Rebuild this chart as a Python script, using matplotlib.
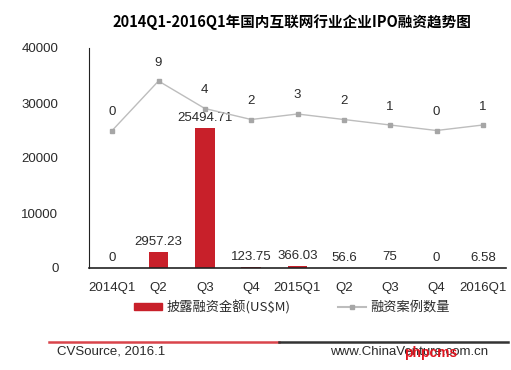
import numpy as np
import matplotlib.pyplot as plt
from matplotlib.lines import Line2D

plt.rcParams['font.family'] = ['Liberation Sans', 'Noto Sans CJK SC', 'DejaVu Sans']

# ----------------------------
# Data
# ----------------------------
quarters = ["2014Q1", "Q2", "Q3", "Q4", "2015Q1", "Q2", "Q3", "Q4", "2016Q1"]
amount = [0, 2957.23, 25494.71, 123.75, 366.03, 56.6, 75, 0, 6.58]
amount_labels = ["0", "2957.23", "25494.71", "123.75", "366.03", "56.6", "75", "0", "6.58"]
cases = [0, 9, 4, 2, 3, 2, 1, 0, 1]
yticks = [0, 10000, 20000, 30000, 40000]

bar_color = "#C8202A"
line_color = "#BDBDBD"
marker_color = "#A6A6A6"
text_color = "#2a2a2a"

# ----------------------------
# Figure
# ----------------------------
fig = plt.figure(figsize=(5.11, 3.70), dpi=100)
ax = fig.add_axes([89 / 511, 1 - 268 / 370, 417 / 511, 220 / 370])
x = np.arange(len(quarters))

ax.bar(x, amount, width=0.43, color=bar_color, zorder=2)
for xi, v, lab in zip(x, amount, amount_labels):
    ax.annotate(lab, (xi, v), xytext=(0, 3), textcoords="offset points",
                ha="center", va="bottom", fontsize=9.5, color=text_color)

ax.set_xlim(-0.5, len(quarters) - 0.5)
ax.set_ylim(0, 40000)
ax.set_yticks(yticks)
ax.set_yticklabels([str(t) for t in yticks], fontsize=9.5, color=text_color)
ax.set_xticks(x)
ax.set_xticklabels(quarters, fontsize=9.5, color=text_color)
ax.tick_params(length=0)
ax.tick_params(axis="x", pad=10)
ax.tick_params(axis="y", pad=22)
for s in ["top", "right"]:
    ax.spines[s].set_visible(False)
ax.spines["left"].set_color("#222222")
ax.spines["bottom"].set_color("#222222")
ax.spines["left"].set_linewidth(0.8)
ax.spines["bottom"].set_linewidth(1.2)
ax.patch.set_visible(False)

# secondary scale for case counts (hidden)
ax2 = ax.twinx()
ax2.set_ylim(-25, 15)
ax2.plot(x, cases, color=line_color, lw=1.0, marker="s", ms=3.5,
         mfc=marker_color, mec=marker_color, zorder=3)
for xi, c in zip(x, cases):
    ax2.annotate(str(c), (xi, c), xytext=(0, 9), textcoords="offset points",
                 ha="center", va="bottom", fontsize=9.5, color=text_color)
ax2.set_yticks([])
for s in ax2.spines.values():
    s.set_visible(False)

fig.text(292 / 511, 0.94, "2014Q1-2016Q1年国内互联网行业企业IPO融资趋势图",
         ha="center", va="center", fontsize=10.5, fontweight="bold",
         family=["Noto Sans CJK SC", "DejaVu Sans"])

# legend
handles = [plt.Rectangle((0, 0), 1, 1, color=bar_color),
           Line2D([0], [0], color=line_color, marker="s", ms=3,
                  mfc=marker_color, mec=marker_color)]
leg = fig.legend(handles, ["披露融资金额(US$M)", "融资案例数量"],
                 loc="center", bbox_to_anchor=(292 / 511, 1 - 307 / 370), ncol=2,
                 frameon=False, handlelength=2.1, handleheight=0.5,
                 columnspacing=3.6, handletextpad=0.35,
                 prop={"family": ["Noto Sans CJK SC", "DejaVu Sans"], "size": 9.5})
for t in leg.get_texts():
    t.set_color(text_color)

# footer
fig.add_artist(Line2D([49 / 511, 279 / 511], [1 - 342 / 370] * 2,
                      color="#D9444B", lw=1.8, transform=fig.transFigure))
fig.add_artist(Line2D([279 / 511, 508 / 511], [1 - 342 / 370] * 2,
                      color="#333333", lw=1.8, transform=fig.transFigure))
fig.text(57 / 511, 1 - 352 / 370, "CVSource, 2016.1", ha="left", va="center",
         fontsize=9.5, color=text_color)
fig.text(330 / 511, 1 - 352 / 370, "www.ChinaVenture.com.cn", ha="left",
         va="center", fontsize=9.5, color=text_color)
fig.text(431 / 511, 1 - 353 / 370, "phpcms", ha="center", va="center",
         fontsize=10, fontweight="bold", color="#E0141E")

fig.savefig("out.png", dpi=100)
